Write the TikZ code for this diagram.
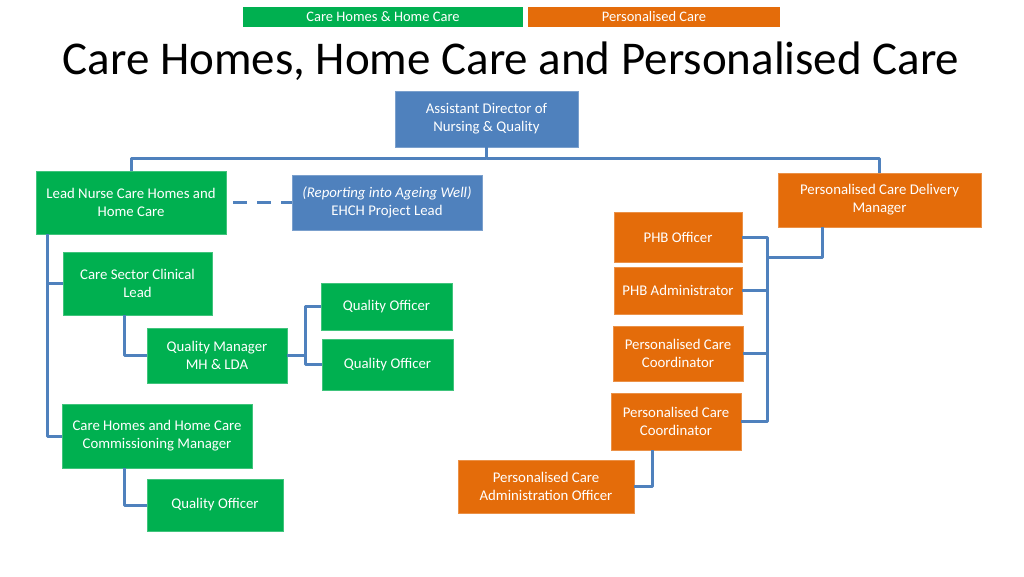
\documentclass[tikz,border=0pt]{standalone}
\usepackage{fontspec}
\setmainfont{Carlito}
\usepackage{tikz}

\definecolor{chgreen}{HTML}{00B050}
\definecolor{pcorange}{HTML}{E46C0A}
\definecolor{adblue}{HTML}{4F81BD}

\begin{document}
\begin{tikzpicture}[x=1pt, y=-1pt,
    box/.style={text=white, align=center, inner sep=0pt, line width=0.8pt,
                font=\fontsize{14.8}{18}\selectfont},
    chbox/.style={box, fill=chgreen, draw=chgreen!75!white},
    pcbox/.style={box, fill=pcorange, draw=pcorange!75!white},
    adbox/.style={box, fill=adblue, draw=adblue!75!white},
    legend/.style={text=white, inner sep=0pt, font=\fontsize{14.5}{16}\selectfont},
    link/.style={draw=adblue, line width=3pt, line join=round}]
                \useasboundingbox (0,0) rectangle (1024,576);

                % Legend and title
                \node[legend, fill=chgreen, minimum width=280, minimum height=20] (keych) at (383,17) {Care Homes \& Home Care};
                \node[legend, fill=pcorange, minimum width=252, minimum height=20] (keypc) at (654,17) {Personalised Care};
                \node[font=\fontsize{47}{52}\selectfont] (title) at (511,61) {Care Homes, Home Care and Personalised Care};

                % Top of structure
                \node[adbox, minimum width=183, minimum height=56] (ad) at (486.5,119) {Assistant Director of\\Nursing \& Quality};
                \node[chbox, minimum width=190, minimum height=63] (lead) at (131,202.5) {Lead Nurse Care Homes and\\Home Care};
                \node[adbox, minimum width=190, minimum height=55] (ehch) at (387,202.5) {\textit{(Reporting into Ageing Well)}\\EHCH Project Lead};
                \node[pcbox, minimum width=203, minimum height=54] (pcdm) at (879.5,200) {Personalised Care Delivery\\Manager};

                % Care homes side
                \node[chbox, minimum width=149, minimum height=63] (cscl) at (137.5,283.5) {Care Sector Clinical\\Lead};
                \node[chbox, minimum width=140, minimum height=55] (qm) at (217,355.5) {Quality Manager\\MH \& LDA};
                \node[chbox, minimum width=131, minimum height=47] (qo1) at (386.5,306.5) {Quality Officer};
                \node[chbox, minimum width=131, minimum height=51] (qo2) at (387.5,364.5) {Quality Officer};
                \node[chbox, minimum width=190, minimum height=64] (chhccm) at (157,436) {Care Homes and Home Care\\Commissioning Manager};
                \node[chbox, minimum width=136, minimum height=52] (qo3) at (215,505) {Quality Officer};

                % Personalised care side
                \node[pcbox, minimum width=128, minimum height=50] (phbo) at (678,237) {PHB Officer};
                \node[pcbox, minimum width=128, minimum height=47] (phba) at (678,290.5) {PHB Administrator};
                \node[pcbox, minimum width=130, minimum height=55] (pcc1) at (678,353.5) {Personalised Care\\Coordinator};
                \node[pcbox, minimum width=130, minimum height=57] (pcc2) at (676,421.5) {Personalised Care\\Coordinator};
                \node[pcbox, minimum width=176, minimum height=53] (pcao) at (546,486.5) {Personalised Care\\Administration Officer};

                % Connectors
                \coordinate (bus) at (486.5,158);
                \draw[link] (ad.south) -- (bus) -| (lead.north);
                \draw[link] (bus) -| (pcdm.north);
                \draw[link, dash pattern=on 14pt off 10pt, dash phase=17pt] (lead.east) -- (ehch.west);

                \draw[link] ([xshift=12pt]lead.south west) |- (cscl.west);
                \draw[link] ([xshift=12pt]lead.south west) |- (chhccm.west);
                \draw[link] ([xshift=62pt]cscl.south west) |- (qm.west);
                \draw[link] (qm.east) -- ++(18,0) coordinate (qmj);
                \draw[link] (qmj) |- (qo1.west);
                \draw[link] (qmj) |- (qo2.west);
                \draw[link] ([xshift=63pt]chhccm.south west) |- (qo3.west);

                \coordinate (rbus) at (767,257);
                \draw[link] ([xshift=45pt]pcdm.south west) |- (rbus);
                \draw[link] (phbo.east) -| (rbus |- pcc2.east) -- (pcc2.east);
                \draw[link] (phba.east) -- (rbus |- phba.east);
                \draw[link] (pcc1.east) -- (rbus |- pcc1.east);
                \draw[link] ([xshift=-24pt]pcc2.south) |- (pcao.east);
            \end{tikzpicture}
\end{document}
